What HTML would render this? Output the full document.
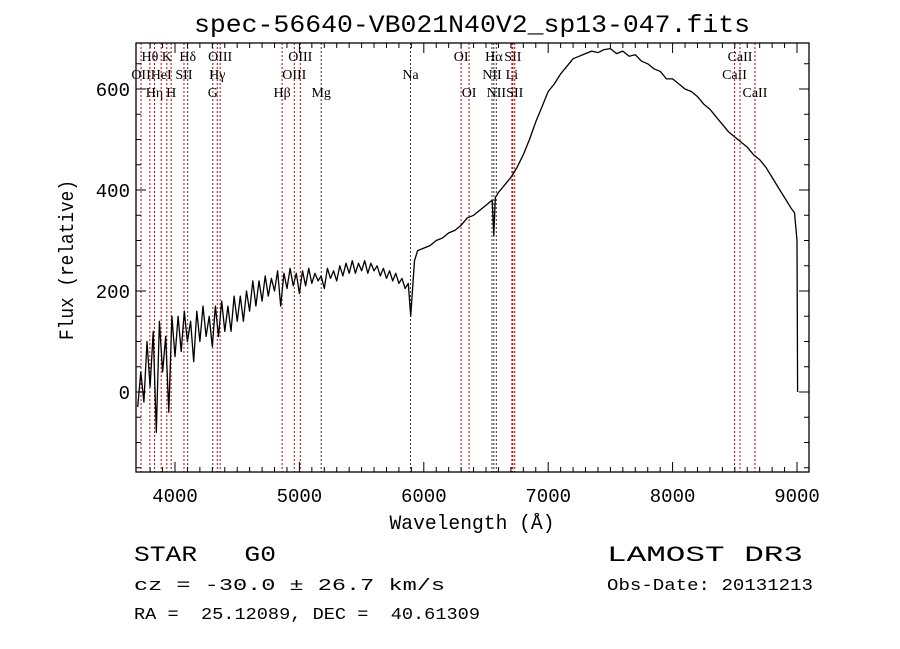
<!DOCTYPE html>
<html><head><meta charset="utf-8"><style>
html,body{margin:0;padding:0;background:#fff;}
svg{display:block;}
</style></head><body>
<svg id="chart" width="900" height="649" viewBox="0 0 900 649" xmlns="http://www.w3.org/2000/svg" font-family="Liberation Mono, monospace">
<rect width="900" height="649" fill="#fff"/>
<text x="472" y="32" text-anchor="middle" font-size="25" textLength="556" lengthAdjust="spacingAndGlyphs">spec-56640-VB021N40V2_sp13-047.fits</text>
<g id="lines"></g>
<g id="spec"></g>
<g id="axes"></g>
<text x="472" y="529" text-anchor="middle" font-size="20" textLength="165" lengthAdjust="spacingAndGlyphs">Wavelength (Å)</text>
<text transform="translate(73,260) rotate(-90)" text-anchor="middle" font-size="20" textLength="160" lengthAdjust="spacingAndGlyphs">Flux (relative)</text>
<text x="134" y="561" font-size="22" textLength="142" lengthAdjust="spacingAndGlyphs" xml:space="preserve">STAR   G0</text>
<text x="134" y="590" font-size="17" textLength="311" lengthAdjust="spacingAndGlyphs">cz = -30.0 ± 26.7 km/s</text>
<text x="134" y="619" font-size="17" textLength="346" lengthAdjust="spacingAndGlyphs" xml:space="preserve">RA =  25.12089, DEC =  40.61309</text>
<text x="607" y="561" font-size="22" textLength="196" lengthAdjust="spacingAndGlyphs">LAMOST DR3</text>
<text x="607" y="590" font-size="17" textLength="206" lengthAdjust="spacingAndGlyphs">Obs-Date: 20131213</text>
</svg>
<script>
const wave = [3700,3725,3750,3775,3800,3825,3850,3875,3900,3925,3950,3975,4000,4025,4050,4075,4100,4125,4150,4175,4200,4225,4250,4275,4300,4325,4350,4375,4400,4425,4450,4475,4500,4525,4550,4575,4600,4625,4650,4675,4700,4725,4750,4775,4800,4825,4850,4875,4900,4925,4950,4975,5000,5025,5050,5075,5100,5125,5150,5175,5200,5225,5250,5275,5300,5325,5350,5375,5400,5425,5450,5475,5500,5525,5550,5575,5600,5625,5650,5675,5700,5725,5750,5775,5800,5825,5850,5875,5895,5925,5950,6000,6050,6100,6150,6200,6250,6300,6350,6400,6450,6500,6550,6563,6575,6600,6650,6700,6750,6800,6850,6900,6950,7000,7050,7100,7150,7200,7250,7300,7350,7400,7450,7500,7550,7600,7650,7700,7750,7800,7850,7900,7950,8000,8050,8100,8150,8200,8250,8300,8350,8400,8450,8500,8550,8600,8650,8700,8750,8800,8850,8900,8950,8980,9000,9005];
const flux = [-30,40,-20,100,10,120,-80,140,40,110,-40,150,70,150,80,160,100,140,60,160,100,170,110,150,90,170,110,180,120,170,120,190,140,190,140,200,160,220,170,220,180,230,190,225,200,240,170,235,205,245,210,235,195,240,210,245,215,235,220,230,205,245,225,240,220,250,230,255,235,260,235,255,240,260,235,255,240,250,230,245,225,240,220,235,215,225,205,215,150,260,280,285,290,300,305,315,320,330,345,350,360,370,380,310,385,395,410,425,445,470,500,535,565,595,610,630,645,660,665,670,675,672,678,680,670,675,665,668,655,650,640,635,620,620,610,600,595,585,570,560,545,530,515,505,495,485,470,460,445,425,405,385,365,355,300,0];
const lineWave = [3727,3798,3835,3889,3934,3969,4072,4102,4304,4340,4363,4861,4959,5007,5175,5893,6300,6364,6548,6563,6583,6708,6716,6731,8498,8542,8662];
const lineName = ["OII","Hθ","Hη","HeI","K","H","SII","Hδ","G","Hγ","OIII","Hβ","OIII","OIII","Mg","Na","OI","OI","NII","Hα","NII","Li","SII","SII","CaII","CaII","CaII"];
const lineRow = [2,1,3,2,1,3,2,1,3,2,1,3,2,1,3,2,1,3,2,1,3,2,1,3,2,1,3];
const lineBlack = [0,0,0,0,0,0,0,1,1,0,0,0,0,0,1,1,0,0,1,1,1,0,0,0,0,0,0];
const xTicks = [4000,5000,6000,7000,8000,9000];
const yTicks = [0,200,400,600];

const L=136,R=809,T=43,B=472;
const x = w => 175 + (w-4000)*0.1244;
const y = f => 392 - f*0.505;
const NS="http://www.w3.org/2000/svg";
function mk(tag, parent, attrs){const e=document.createElementNS(NS,tag);for(const k in attrs)e.setAttribute(k,attrs[k]);parent.appendChild(e);return e;}

const gl=document.getElementById('lines');
const rowY=[0,61,79,97];
lineWave.forEach((w,i)=>{
  const ln=mk('line',gl,{x1:x(w),x2:x(w),y1:T,y2:B,stroke:lineBlack[i]?'#333':'#c00000','stroke-width':1,'stroke-dasharray':'2,2'});
  
  
  const t=mk('text',gl,{x:x(w),y:rowY[lineRow[i]],'text-anchor':'middle','font-size':14,'font-family':'Liberation Serif, serif'});
  t.textContent=lineName[i];
  
  
});

const gs=document.getElementById('spec');
const d=wave.map((w,i)=>(i?'L':'M')+x(w).toFixed(1)+','+Math.max(T,Math.min(B,y(flux[i]))).toFixed(1)).join('');
const p=mk('path',gs,{d:d,fill:'none',stroke:'#000','stroke-width':1.3,'stroke-linejoin':'round'});



const ga=document.getElementById('axes');
const fr=mk('rect',ga,{x:L,y:T,width:R-L,height:B-T,fill:'none',stroke:'#000','stroke-width':1.3});


for(let w=3800;w<=9100;w+=100){
  const X=x(w); if(X<L||X>R)continue;
  const len=(w%1000===0)?10:5;
  mk('line',ga,{x1:X,x2:X,y1:B,y2:B-len,stroke:'#000'});
  mk('line',ga,{x1:X,x2:X,y1:T,y2:T+len,stroke:'#000'});
}
xTicks.forEach(w=>{
  const t=mk('text',ga,{x:x(w),y:502,'text-anchor':'middle','font-size':19});
  t.textContent=w;
  
  
});
for(let f=-150;f<=690;f+=50){
  const Y=y(f); if(Y<T||Y>B)continue;
  const len=(f%200===0)?10:5;
  mk('line',ga,{x1:L,x2:L+len,y1:Y,y2:Y,stroke:'#000'});
  mk('line',ga,{x1:R,x2:R-len,y1:Y,y2:Y,stroke:'#000'});
}
yTicks.forEach(f=>{
  const t=mk('text',ga,{x:130,y:y(f)+7,'text-anchor':'end','font-size':19});
  t.textContent=f;
  
  
});
</script>
</body></html>
